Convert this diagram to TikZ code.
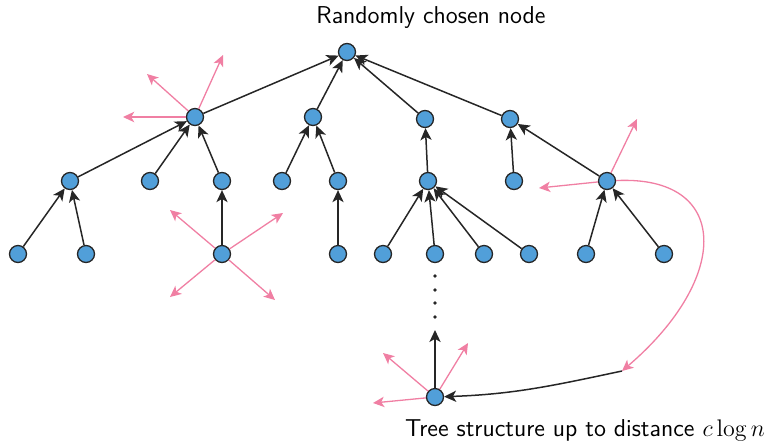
\documentclass[tikz,border=0pt]{standalone}
\usetikzlibrary{arrows.meta}

\definecolor{nodeblue}{RGB}{81,159,217}
\definecolor{spreadpink}{RGB}{240,127,163}

\tikzset{
  vertex/.style={circle, draw=black!85, line width=.65pt, fill=nodeblue,
    minimum size=8.5pt, inner sep=0pt},
  parent/.style={draw=black!85, line width=.75pt,
    -{Stealth[length=6pt,width=5.6pt,inset=1.6pt]}},
  spread/.style={draw=spreadpink, line width=.65pt,
    -{Stealth[length=5.6pt,width=5.2pt,inset=1.5pt]}},
  caption/.style={font=\fontsize{12.2}{14}\sffamily, inner sep=0pt}
}

\begin{document}
\begin{tikzpicture}[x=.5pt, y=-.5pt]
        \useasboundingbox (0,0) rectangle (780,440);

        % free ends of the outgoing links
        \coordinate (p1) at (123,117);
        \coordinate (p2) at (147,74);
        \coordinate (p3) at (223,55);
        \coordinate (p4) at (170,210);
        \coordinate (p5) at (283,213);
        \coordinate (p6) at (170,297);
        \coordinate (p7) at (275,300);
        \coordinate (p8) at (539,188);
        \coordinate (p9) at (637,119);
        \coordinate (p10) at (373,403);
        \coordinate (p11) at (383,353);
        \coordinate (p12) at (468,343);
        \coordinate (up) at (435,330);
        \coordinate (mid) at (622,371);

        \begin{scope}[every node/.style={vertex}]
          \node (0)  at (347,52)  {};
          \node (1)  at (195,117) {};
          \node (2)  at (313,117) {};
          \node (3)  at (425,119) {};
          \node (4)  at (510,119) {};
          \node (5)  at (70,181)  {};
          \node (6)  at (150,181) {};
          \node (7)  at (222,181) {};
          \node (8)  at (282,181) {};
          \node (9)  at (338,181) {};
          \node (10) at (428,181) {};
          \node (11) at (514,181) {};
          \node (12) at (607,181) {};
          \node (13) at (18,254)  {};
          \node (14) at (86,254)  {};
          \node (15) at (222,254) {};
          \node (16) at (338,254) {};
          \node (17) at (383,254) {};
          \node (18) at (435,254) {};
          \node (19) at (484,254) {};
          \node (20) at (529,254) {};
          \node (21) at (586,254) {};
          \node (22) at (664,254) {};
          \node (23) at (435,397) {};
        \end{scope}

        % pink: links leaving a node
        \begin{scope}[every edge/.style={spread}]
          \path (1)  edge (p1) edge (p2) edge (p3);
          \path (15) edge (p4) edge (p5) edge (p6) edge (p7);
          \path (12) edge (p8) edge (p9);
          \path (23) edge (p10) edge (p11) edge (p12);
        \end{scope}
        \draw[spread] (12) .. controls (730,175) and (732,277) .. (mid);

        % every child points to its parent
        \begin{scope}[every edge/.style={parent}]
          \path (1)  edge (0);
          \path (2)  edge (0);
          \path (3)  edge (0);
          \path (4)  edge (0);
          \path (5)  edge (1);
          \path (6)  edge (1);
          \path (7)  edge (1);
          \path (8)  edge (2);
          \path (9)  edge (2);
          \path (10) edge (3);
          \path (11) edge (4);
          \path (12) edge (4);
          \path (13) edge (5);
          \path (14) edge (5);
          \path (15) edge (7);
          \path (16) edge (9);
          \path (17) edge (10);
          \path (18) edge (10);
          \path (19) edge (10);
          \path (20) edge (10);
          \path (21) edge (12);
          \path (22) edge (12);
          \path (23) edge (up);
          \path (mid) edge[out=192, in=2] (23);
        \end{scope}

        \foreach \y in {276,290,303,317}
          \fill[black!85] (435,\y) circle (.9pt);

        \node[caption] (top) at (431,18) {Randomly chosen node};
        \node[caption] (bottom) at (585,430) {Tree structure up to distance $c\log n$};

      \end{tikzpicture}
\end{document}
